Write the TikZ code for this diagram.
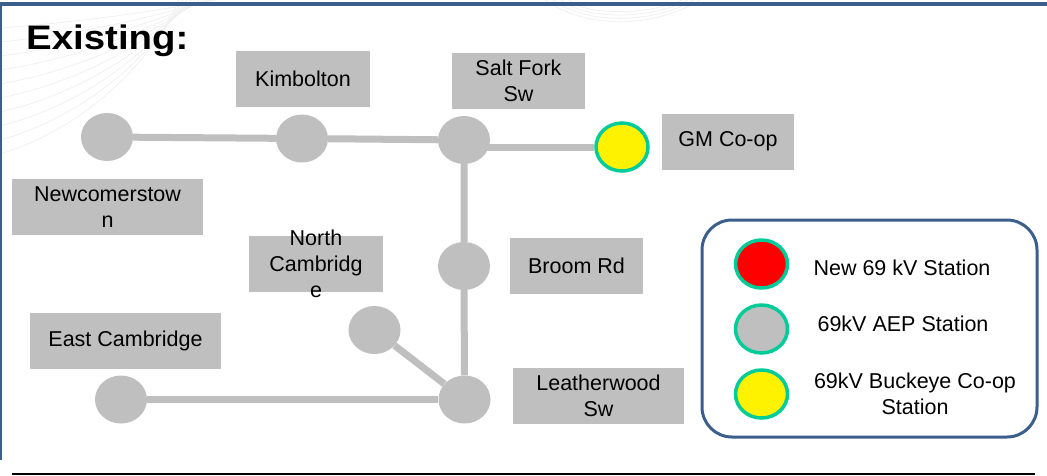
\documentclass[tikz,border=0pt]{standalone}
\usepackage{fontspec}
\setmainfont{Liberation Sans}
\usetikzlibrary{shapes.geometric,positioning}

\definecolor{boxgray}{RGB}{191,191,191}
\definecolor{ringteal}{RGB}{0,204,153}
\definecolor{frameblue}{RGB}{59,94,140}
\newcommand{\lblfont}{\fontsize{21.5}{26}\selectfont}

\begin{document}
\begin{tikzpicture}[x=1pt,y=-1pt,
  station/.style={ellipse,fill=boxgray,minimum width=52,minimum height=48,inner sep=0},
  coopst/.style={station,fill=yellow,draw=ringteal,line width=3.5},
  aepst/.style={station,draw=ringteal,line width=3.5},
  newst/.style={station,fill=red,draw=ringteal,line width=3.5},
  namebox/.style={fill=boxgray,minimum height=56,inner sep=0,align=center,font=\lblfont},
  legtext/.style={align=center,inner sep=0,font=\lblfont},
  feeder/.style={draw=boxgray,line width=7},
  wmark/.style={draw=black!6,line width=0.8}]
  \useasboundingbox (0,0) rectangle (1047,475);

  % faint background swirls
  \foreach \i in {0,...,9}
    \draw[wmark] (0,28+14*\i) .. controls (80,22+12*\i) and (150,12+6*\i) .. (215-4*\i,0);
  \foreach \i in {0,...,3}
    \draw[wmark] (545+8*\i,0) .. controls (585,28-4*\i) and (650,30-5*\i) .. (700-6*\i,0);

  % frame
  \draw[frameblue,line width=4] (0,4) -- (1047,4);
  \draw[frameblue,line width=2] (1,4) -- (1,460);
  \draw[black,line width=2.4] (12,473.8) -- (1035,473.8);

  \node[anchor=base west,inner sep=0,font=\fontsize{34}{40}\selectfont\bfseries] (title)
    at (26,49) {\scalebox{1.13}[1]{Existing:}};

  % station labels
  \node[namebox,minimum width=134] (kimlbl) at (303,79) {Kimbolton};
  \node[namebox,minimum width=133] (sfklbl) at (518.5,81) {Salt Fork\\Sw};
  \node[namebox,minimum width=132] (gmclbl) at (728,141.5) {GM Co-op};
  \node[namebox,minimum width=191] (ncwlbl) at (107.5,207) {Newcomerstow\\n};
  \node[namebox,minimum width=134] (ncblbl) at (316,264) {};
  \node[legtext] at (ncblbl) {North\\Cambridg\\e};
  \node[namebox,minimum width=133] (brdlbl) at (576.5,265.5) {Broom Rd};
  \node[namebox,minimum width=191] (ecblbl) at (125.5,340.5) {East Cambridge};
  \node[namebox,minimum width=171] (lwdlbl) at (598.5,395.5) {Leatherwood\\Sw};

  % stations
  \node[station] (ncw) at (107,137) {};
  \node[station] (kim) at (302,138.5) {};
  \node[station] (sfk) at (464,140) {};
  \node[coopst] (gmc) at (622,147) {};
  \node[station] (brd) at (464,266) {};
  \node[station] (ncb) at (374.5,330) {};
  \node[station] (ecb) at (121,399.5) {};
  \node[station] (lwd) at (464.5,399.5) {};

  % lines
  \draw[feeder] (ncw) -- (kim) -- (sfk);
  \draw[feeder] (gmc) -- (gmc -| sfk);
  \draw[feeder] (sfk) -- (brd) -- (lwd);
  \draw[feeder] (ncb) -- (lwd);
  \draw[feeder] (ecb) -- (lwd);

  % legend
  \node[draw=frameblue,line width=3,rounded corners=30,minimum width=335,minimum height=217,inner sep=0]
    (legend) at (869.5,328.5) {};
  \node[newst] (legnew) at (761.5,264) {};
  \node[aepst] (legaep) at (761.5,329) {};
  \node[coopst] (legcoop) at (761.5,394) {};
  \node[legtext] (newtxt) at (902,268) {New 69 kV Station};
  \node[legtext] (aeptxt) at (903,324) {69kV AEP Station};
  \node[legtext] (cooptxt) at (915,393.5) {69kV Buckeye Co-op\\Station};
\end{tikzpicture}
\end{document}
